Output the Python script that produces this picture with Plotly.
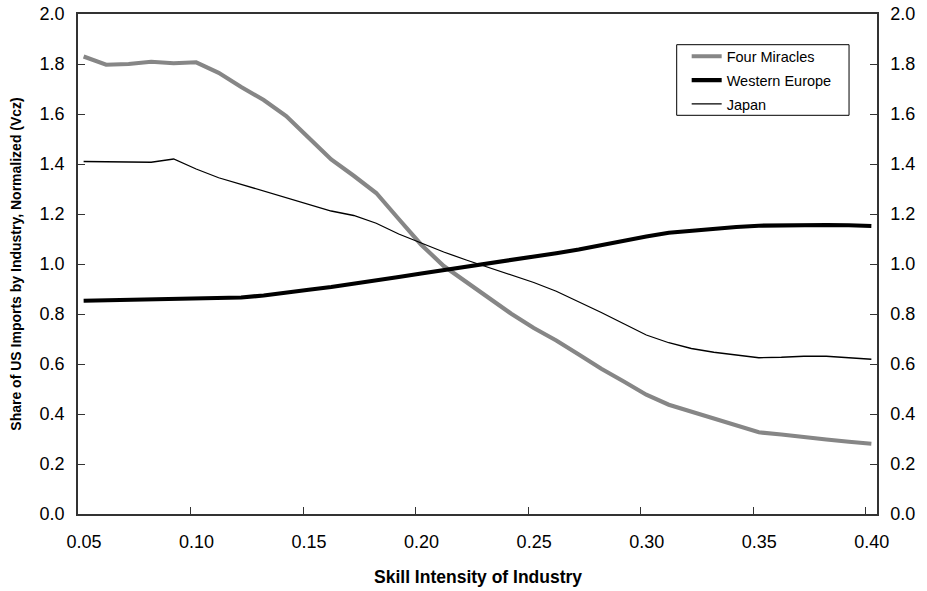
import plotly.graph_objects as go

# ---- data ----
skill = [0.05, 0.06, 0.07, 0.08, 0.09, 0.10, 0.11, 0.12, 0.13, 0.14, 0.15, 0.16,
         0.17, 0.18, 0.19, 0.20, 0.21, 0.22, 0.23, 0.24, 0.25, 0.26, 0.27, 0.28,
         0.29, 0.30, 0.31, 0.32, 0.33, 0.34, 0.35, 0.36, 0.37, 0.38, 0.39, 0.40]

four_miracles = [1.830, 1.797, 1.800, 1.809, 1.803, 1.807, 1.765, 1.708, 1.656, 1.592,
                 1.505, 1.418, 1.353, 1.284, 1.180, 1.077, 0.992, 0.928, 0.867, 0.801,
                 0.744, 0.694, 0.638, 0.581, 0.530, 0.477, 0.437, 0.409, 0.385, 0.356,
                 0.327, 0.318, 0.306, 0.298, 0.289, 0.281]

western_europe = [0.853, 0.855, 0.857, 0.858, 0.859, 0.859, 0.861, 0.866, 0.874, 0.887,
                  0.897, 0.908, 0.920, 0.933, 0.948, 0.962, 0.975, 0.987, 1.000, 1.014,
                  1.030, 1.043, 1.058, 1.076, 1.093, 1.110, 1.125, 1.134, 1.141, 1.148,
                  1.153, 1.155, 1.156, 1.156, 1.155, 1.152]

japan = [1.410, 1.410, 1.407, 1.407, 1.420, 1.380, 1.345, 1.318, 1.291, 1.264,
         1.237, 1.212, 1.194, 1.163, 1.120, 1.084, 1.048, 1.016, 0.986, 0.956,
         0.926, 0.891, 0.850, 0.806, 0.761, 0.716, 0.685, 0.662, 0.647, 0.635,
         0.625, 0.627, 0.631, 0.631, 0.625, 0.619]

x_tick_labels = ["0.05", "0.10", "0.15", "0.20", "0.25", "0.30", "0.35", "0.40"]
y_tick_values = [0.0, 0.2, 0.4, 0.6, 0.8, 1.0, 1.2, 1.4, 1.6, 1.8, 2.0]

series_names = ["Four Miracles", "Western Europe", "Japan"]

# ---- style ----
FONT = "Arial, Liberation Sans, sans-serif"
HALF_CAT = 0.0025  # half of a category step (0.005) on the category-style axis
AX = "#333333"

fig = go.Figure()
fig.add_trace(go.Scatter(x=skill, y=four_miracles, mode="lines", name=series_names[0],
                         line=dict(color="#868686", width=4.2), legendgroup="a"))
fig.add_trace(go.Scatter(x=skill, y=western_europe, mode="lines", name=series_names[1],
                         line=dict(color="#000000", width=4.2), legendgroup="b"))
fig.add_trace(go.Scatter(x=skill, y=japan, mode="lines", name=series_names[2],
                         line=dict(color="#000000", width=1.3), legendgroup="c"))

x_tick_pos = [float(t) - HALF_CAT for t in x_tick_labels]

fig.update_layout(
    width=927, height=591,
    margin=dict(l=78, r=50, t=14, b=77, autoexpand=False),
    paper_bgcolor="white", plot_bgcolor="white",
    font=dict(family=FONT, color="black"),
    showlegend=True,
    legend=dict(x=0.7618, y=0.9474, xanchor="left", yanchor="top",
                bgcolor="rgba(0,0,0,0)", borderwidth=0,
                font=dict(family=FONT, size=14.5, color="black"),
                tracegroupgap=2, traceorder="grouped"),
    shapes=[dict(type="rect", xref="paper", yref="paper",
                 x0=0.7493, x1=0.965, y0=0.7974, y1=0.9386,
                 line=dict(color="black", width=1), fillcolor="white", layer="below")],
    xaxis=dict(range=[0.05 - HALF_CAT, 0.40 + HALF_CAT], tickmode="array",
               tickvals=x_tick_pos, ticktext=x_tick_labels, automargin=False,
               ticks="inside", ticklen=7, tickwidth=1, tickcolor=AX,
               ticklabelshift=6, ticklabelstandoff=11,
               showline=True, linecolor=AX, linewidth=1.5, mirror=True,
               showgrid=False, zeroline=False,
               tickfont=dict(family=FONT, size=18, color="black")),
    yaxis=dict(range=[0, 2], tickmode="array", tickvals=y_tick_values, tickformat=".1f",
               automargin=False,
               ticks="inside", ticklen=7, tickwidth=1, tickcolor=AX,
               ticklabelstandoff=8,
               showline=True, linecolor=AX, linewidth=1.5,
               showgrid=False, zeroline=False,
               tickfont=dict(family=FONT, size=18, color="black")),
    yaxis2=dict(range=[0, 2], overlaying="y", side="right", anchor="x",
                automargin=False,
                tickmode="array", tickvals=y_tick_values, tickformat=".1f",
                ticks="inside", ticklen=7, tickwidth=1, tickcolor=AX,
                ticklabelstandoff=8,
                showline=True, linecolor=AX, linewidth=1.5,
                showgrid=False, zeroline=False,
                tickfont=dict(family=FONT, size=18, color="black")),
    annotations=[
        dict(text="<b>Skill Intensity of Industry</b>", xref="paper", yref="paper",
             x=0.5006, y=-0.126, xanchor="center", yanchor="middle", showarrow=False,
             font=dict(family=FONT, size=17.5, color="black")),
        dict(text="<b>Share of US Imports by Industry, Normalized (Vcz)</b>",
             xref="paper", yref="paper", x=-0.078, y=0.5, textangle=-90,
             xanchor="center", yanchor="middle", showarrow=False,
             font=dict(family=FONT, size=14, color="black")),
    ],
)

# invisible trace so the right-hand axis is rendered
fig.add_trace(go.Scatter(x=[skill[0]], y=[0], yaxis="y2", mode="markers",
                         marker=dict(opacity=0), showlegend=False, hoverinfo="skip"))

fig.write_html("out.html")
